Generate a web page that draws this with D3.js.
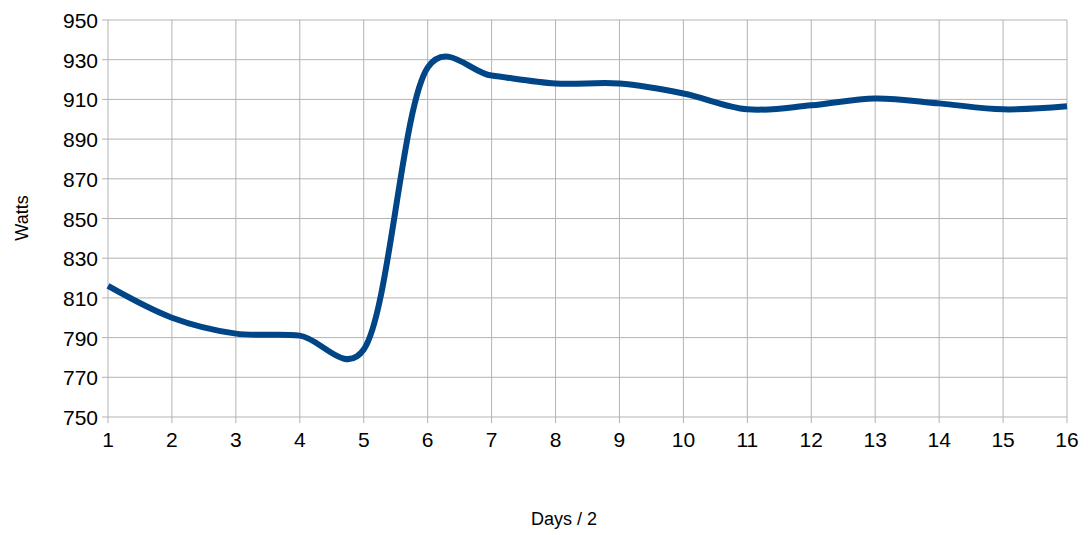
<!DOCTYPE html>
<html><head><meta charset="utf-8">
<script src="https://cdn.jsdelivr.net/npm/d3@7"></script>
<style>body{margin:0;background:#fff}text{font-family:"Liberation Sans",Arial,sans-serif}</style>
</head><body><svg id="c" width="1088" height="535"></svg>
<script>
var days = [1,2,3,4,5,6,7,8,9,10,11,12,13,14,15,16];
var watts = [816,800,792,791,784,926,922,918,918,913,905,907,910.5,908,905,906.5];
var yTicks = d3.range(750, 951, 20);

var svg = d3.select("#c");
var pLeft = 108, pRight = 1067, pTop = 20, pBottom = 417;
var x = d3.scaleLinear().domain([1,16]).range([pLeft,pRight]);
var y = d3.scaleLinear().domain([750,950]).range([pBottom,pTop]);

svg.append("g").selectAll("line").data(days).enter().append("line")
   .attr("x1", function(d){return x(d);}).attr("x2", function(d){return x(d);})
   .attr("y1", pTop).attr("y2", pBottom + 6).attr("stroke", "#b3b3b3");
svg.append("g").selectAll("line").data(yTicks).enter().append("line")
   .attr("x1", pLeft - 6).attr("x2", pRight)
   .attr("y1", function(d){return y(d);}).attr("y2", function(d){return y(d);})
   .attr("stroke", "#b3b3b3");

svg.append("g").selectAll("text").data(yTicks).enter().append("text")
   .attr("x", pLeft - 10).attr("y", function(d){return y(d) + 8;})
   .attr("text-anchor", "end").attr("font-size", 21).text(function(d){return d;});
svg.append("g").selectAll("text").data(days).enter().append("text")
   .attr("x", function(d){return x(d);}).attr("y", pBottom + 30)
   .attr("text-anchor", "middle").attr("font-size", 21).text(function(d){return d;});

svg.append("text").attr("transform", "translate(28,218) rotate(-90)")
   .attr("text-anchor", "middle").attr("font-size", 18).text("Watts");
svg.append("text").attr("x", 564).attr("y", 525)
   .attr("text-anchor", "middle").attr("font-size", 18).text("Days / 2");

var line = d3.line().x(function(d,i){return x(days[i]);}).y(function(d){return y(d);})
   .curve(d3.curveCatmullRom.alpha(0.2));
svg.append("path").datum(watts).attr("d", line).attr("fill", "none")
   .attr("stroke", "#004586").attr("stroke-width", 6).attr("stroke-linejoin", "round");
</script></body></html>
